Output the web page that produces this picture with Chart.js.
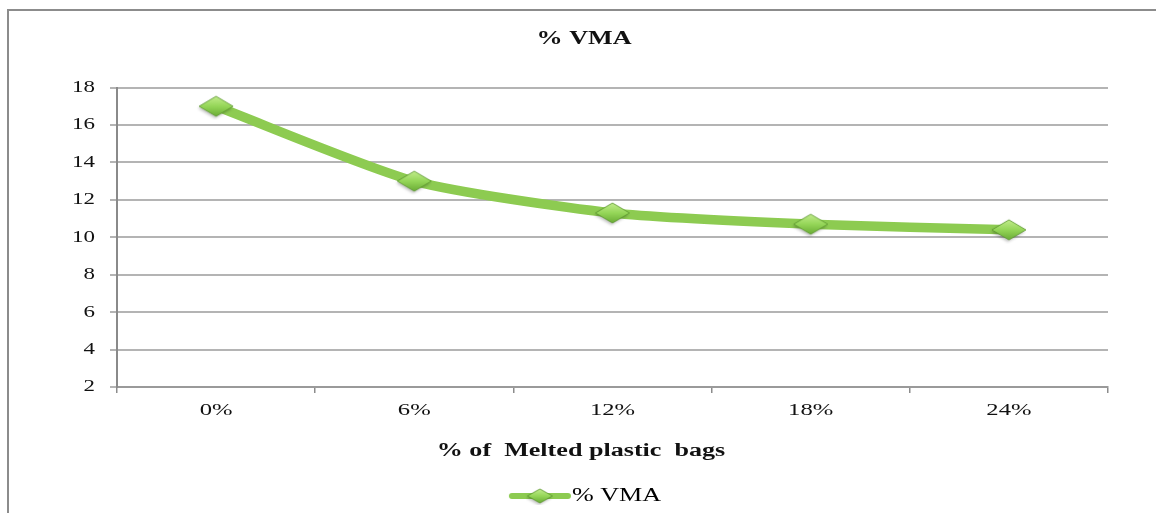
<!DOCTYPE html>
<html>
<head>
<meta charset="utf-8">
<script src="https://cdn.jsdelivr.net/npm/chart.js@4/dist/chart.umd.min.js"></script>
<style>
  html, body { margin: 0; padding: 0; background: #fff; }
  #wrap { position: relative; width: 1156px; height: 513px; }
</style>
</head>
<body>
<div id="wrap"><canvas id="c" width="1156" height="513"></canvas></div>
<script>
// Chart data
const categories = ['0%', '6%', '12%', '18%', '24%'];
const vmaValues = [17, 13, 11.3, 10.7, 10.4];
const seriesName = '% VMA';
const chartTitle = '% VMA';
const xAxisTitle = '% of  Melted plastic  bags';
const yMin = 2, yMax = 18, yStep = 2;

const SERIF = '"Liberation Serif", "Times New Roman", serif';
const LINE_GREEN = '#8dcb51';

// Flattened diamond marker with a soft bevel look
function makeDiamond(w, h, pad) {
  const c = document.createElement('canvas');
  c.width = w + pad * 2; c.height = h + pad * 2;
  const g = c.getContext('2d');
  const cx = c.width / 2, cy = c.height / 2;
  const path = () => {
    g.beginPath();
    g.moveTo(cx, cy - h / 2); g.lineTo(cx + w / 2, cy); g.lineTo(cx, cy + h / 2); g.lineTo(cx - w / 2, cy);
    g.closePath();
  };
  g.save();
  g.shadowColor = 'rgba(0,0,0,0.25)';
  g.shadowBlur = 3; g.shadowOffsetX = -1; g.shadowOffsetY = 2;
  path();
  const grad = g.createLinearGradient(0, cy - h / 2, 0, cy + h / 2);
  grad.addColorStop(0, '#c2ec8c');
  grad.addColorStop(0.5, '#95d658');
  grad.addColorStop(1, '#6aac36');
  g.fillStyle = grad;
  g.fill();
  g.restore();
  path();
  g.strokeStyle = 'rgba(90,150,45,0.8)';
  g.lineWidth = 1;
  g.stroke();
  return c;
}

// Legend swatch: line segment with a diamond in the middle
function makeLegendSwatch() {
  const c = document.createElement('canvas');
  c.width = 74; c.height = 20;
  const g = c.getContext('2d');
  g.strokeStyle = LINE_GREEN;
  g.lineWidth = 6;
  g.lineCap = 'round';
  g.beginPath(); g.moveTo(14, 10); g.lineTo(70, 10); g.stroke();
  const d = makeDiamond(25, 14, 2);
  g.drawImage(d, 42 - d.width / 2, 10 - d.height / 2);
  return c;
}

const markerImg = makeDiamond(34, 20, 4);
const legendImg = makeLegendSwatch();

// Wide-set lettering: text blocks are drawn with a horizontal stretch,
// and the heading blocks are centred on the whole frame
const STRETCH = { title: 1.45, legend: 1.45, xTicks: 1.45, xTitle: 1.45, yTicks: 1.35 };
const CENTER_X = { title: 584, legend: 584, xTitle: 581 };
function withStretch(obj, name, sx, shift) {
  if (!obj || obj['__sx_' + name]) return;
  const orig = obj[name];
  obj[name] = function (...args) {
    const ctx = this.ctx;
    const fill = CanvasRenderingContext2D.prototype.fillText;
    const [dx, dy] = shift ? shift(this) : [0, 0];
    ctx.save();
    ctx.translate(dx, dy);
    ctx.fillText = function (t, x, y, mw) {
      this.save();
      this.translate(x, y);
      this.scale(sx, 1);
      if (mw === undefined) fill.call(this, t, 0, 0);
      else fill.call(this, t, 0, 0, mw / sx);
      this.restore();
    };
    try { return orig.apply(this, args); } finally { delete ctx.fillText; ctx.restore(); }
  };
  obj['__sx_' + name] = true;
}
const stretchPlugin = {
  id: 'textStretch',
  beforeLayout(chart) {
    const measure = CanvasRenderingContext2D.prototype.measureText;
    chart.ctx.measureText = function (t) {
      const m = measure.call(this, t);
      return { width: m.width * STRETCH.legend, actualBoundingBoxAscent: m.actualBoundingBoxAscent, actualBoundingBoxDescent: m.actualBoundingBoxDescent };
    };
  },
  afterLayout(chart) {
    delete chart.ctx.measureText;
    withStretch(chart.titleBlock, 'draw', STRETCH.title, (b) => [CENTER_X.title - (b.left + b.right) / 2, 0]);
    withStretch(chart.legend, 'draw', STRETCH.legend, (b) => [CENTER_X.legend - (b.left + b.right) / 2, 2]);
    withStretch(chart.scales.x, 'drawLabels', STRETCH.xTicks);
    withStretch(chart.scales.x, 'drawTitle', STRETCH.xTitle, (s) => [CENTER_X.xTitle - (s.left + s.right) / 2, 1]);
    withStretch(chart.scales.y, 'drawLabels', STRETCH.yTicks);
  }
};

// Outer frame (left and top edges)
const framePlugin = {
  id: 'frame',
  beforeDraw(chart) {
    const ctx = chart.ctx;
    ctx.save();
    ctx.fillStyle = '#ffffff';
    ctx.fillRect(0, 0, chart.width, chart.height);
    ctx.strokeStyle = '#8c8c8c';
    ctx.lineWidth = 2;
    ctx.beginPath();
    ctx.moveTo(8, chart.height);
    ctx.lineTo(8, 10);
    ctx.lineTo(chart.width, 10);
    ctx.stroke();
    ctx.restore();
  }
};

new Chart(document.getElementById('c'), {
  type: 'line',
  data: {
    labels: categories,
    datasets: [{
      label: seriesName,
      data: vmaValues,
      borderColor: LINE_GREEN,
      backgroundColor: LINE_GREEN,
      borderWidth: 9.5,
      tension: 0.22,
      pointStyle: markerImg,
      pointRadius: 10,
      pointHoverRadius: 10
    }]
  },
  options: {
    responsive: false,
    animation: false,
    events: [],
    layout: { padding: { top: 10, right: 48, bottom: 0, left: 0 } },
    plugins: {
      title: {
        display: true,
        text: chartTitle,
        color: '#111',
        font: { family: SERIF, size: 18, weight: 'bold', lineHeight: 1.2 },
        padding: { top: 19, bottom: 37 }
      },
      legend: {
        display: true,
        position: 'bottom',
        labels: {
          color: '#111',
          font: { family: SERIF, size: 18 },
          usePointStyle: true,
          pointStyleWidth: 56,
          padding: 20,
          generateLabels(chart) {
            const ds = chart.data.datasets[0];
            return [{ text: ds.label, pointStyle: legendImg, fillStyle: LINE_GREEN, strokeStyle: LINE_GREEN, lineWidth: 0, datasetIndex: 0, hidden: false }];
          }
        }
      },
      tooltip: { enabled: false }
    },
    scales: {
      x: {
        offset: true,
        grid: { display: true, offset: true, drawOnChartArea: false, drawTicks: true, tickLength: 6, color: '#8c8c8c', lineWidth: 1.5 },
        border: { display: true, color: '#9a9a9a', width: 2 },
        ticks: { color: '#111', font: { family: SERIF, size: 17 }, padding: 7, maxRotation: 0 },
        title: {
          display: true,
          text: xAxisTitle,
          color: '#111',
          font: { family: SERIF, size: 18, weight: 'bold', lineHeight: 1.2 },
          padding: { top: 0, bottom: 4 }
        },
        afterFit(scale) { scale.height = 78; }
      },
      y: {
        min: yMin,
        max: yMax,
        grid: { color: '#b4b4b4', lineWidth: 2, tickLength: 7, drawTicks: true },
        border: { display: true, color: '#8a8a8a', width: 2 },
        ticks: { stepSize: yStep, color: '#111', font: { family: SERIF, size: 17 }, padding: 15 },
        afterFit(scale) { scale.width = 117; }
      }
    }
  },
  plugins: [framePlugin, stretchPlugin]
});
</script>
</body>
</html>
